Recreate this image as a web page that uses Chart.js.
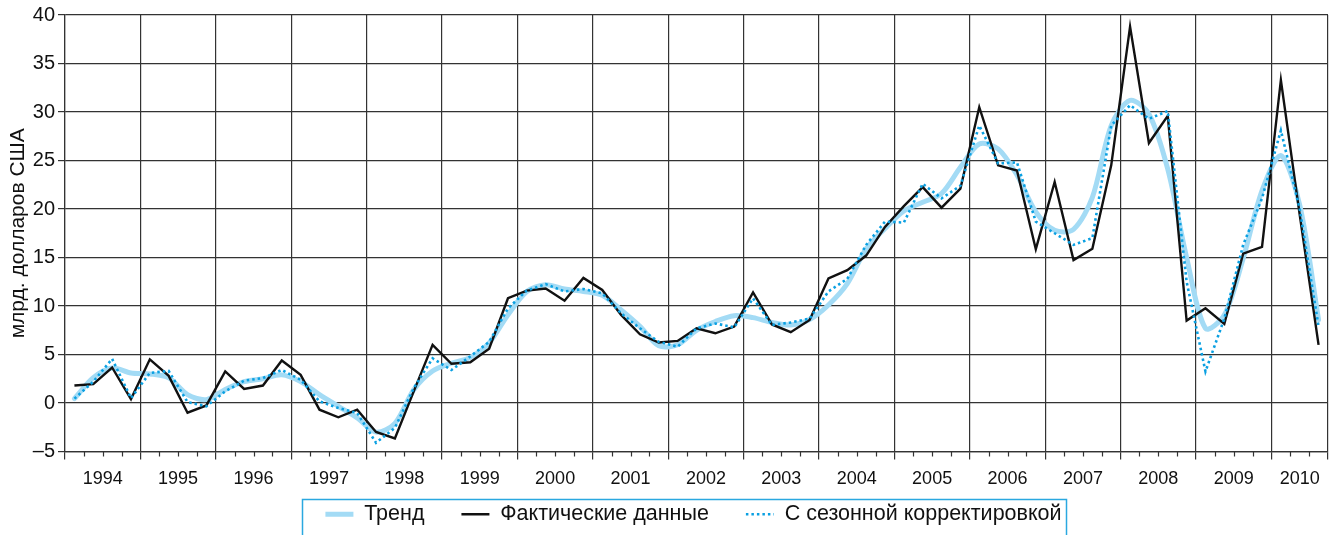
<!DOCTYPE html>
<html>
<head>
<meta charset="utf-8">
<script src="https://cdn.jsdelivr.net/npm/chart.js@4.4.1/dist/chart.umd.min.js"></script>
<style>
  html, body { margin:0; padding:0; background:#fff; }
  #wrap { width:1337px; height:535px; position:relative; }
</style>
</head>
<body>
<div id="wrap"><canvas id="chart"></canvas></div>
<script>
// quarterly data, 1994 Q1 .. 2010 Q3
var years = ['1994','1995','1996','1997','1998','1999','2000','2001','2002','2003','2004','2005','2006','2007','2008','2009','2010'];
var yTicks = [-5, 0, 5, 10, 15, 20, 25, 30, 35, 40];

var trend = [0.45, 2.6, 3.6, 3.1, 3.0, 2.6, 0.86, 0.35, 1.4, 2.2, 2.5,
  2.9, 2.2, 0.86, -0.34, -1.54, -3.0, -2.1, 1.37, 3.3, 4.1, 4.7, 6.2,
  9.1, 11.5, 12.2, 11.75, 11.5, 11.1, 9.6, 7.9, 5.9, 6.0, 7.5,
  8.4, 9.0, 8.8, 8.3, 8.05, 8.6, 10.1, 12.3, 15.9, 18.0, 19.8,
  20.7, 21.6, 24.3, 26.7, 26.2, 23.5, 19.7, 17.8, 17.9, 21.2,
  28.6, 31.2, 29.8, 24.1, 15.0, 7.7, 9.07, 14.9, 21.9, 25.5, 20.4, 8.6];

var actual = [1.8, 1.95, 3.66, 0.4, 4.5, 2.8, -1.0, -0.25, 3.25, 1.45, 1.8,
  4.38, 2.9, -0.69, -1.47, -0.69, -2.98, -3.66, 1.2, 6.0, 4.04, 4.2, 5.6,
  10.8, 11.58, 11.8, 10.55, 12.9, 11.65, 9.08, 7.09, 6.23, 6.4, 7.7,
  7.19, 7.88, 11.4, 8.1, 7.3, 8.56, 12.84, 13.7, 15.2, 18.15, 20.3,
  22.26, 20.14, 22.1, 30.5, 24.5, 23.97, 15.86, 22.78, 14.73, 15.9,
  24.5, 38.8, 26.8, 29.6, 8.5, 9.76, 8.15, 15.4, 16.1, 33.3, 19.4, 6.0];

var seasonal = [0.45, 2.2, 4.55, 0.5, 3.1, 3.3, 0.1, -0.34, 1.2, 2.3, 2.57,
  3.4, 2.4, 0.17, -0.51, -1.03, -4.1, -2.57, 1.54, 4.6, 3.4, 4.8, 6.3,
  9.76, 11.6, 12.26, 11.5, 11.75, 11.3, 9.25, 7.7, 6.3, 5.8, 7.7,
  8.2, 7.8, 10.8, 8.05, 8.3, 8.7, 11.5, 12.8, 16.3, 18.7, 18.6,
  22.6, 21.1, 22.4, 28.6, 24.7, 24.8, 18.7, 17.5, 16.3, 17.0,
  28.6, 30.7, 29.3, 30.1, 12.5, 3.25, 8.7, 16.3, 21.1, 28.1, 20.0, 7.9];

var FONT = "'Liberation Sans', Arial, sans-serif";
var GRID = '#333';
var nQ = actual.length;

// x axis: one unit per quarter, points sit in the middle of their quarter
function toPoints(arr){
  return arr.map(function(v, i){ return { x: i + 0.5, y: v }; });
}

// year edges get a grid line, year middles get the label
var yearEdges = [], yearLabels = {};
years.forEach(function(y, k){
  var s = k * 4, e = Math.min(s + 4, nQ);
  yearEdges.push(s);
  yearLabels[(s + e) / 2] = y;
});
yearEdges.push(nQ);
var xTicks = yearEdges.concat(Object.keys(yearLabels).map(Number)).sort(function(a,b){ return a-b; });

function isEdge(v){ return yearEdges.indexOf(v) >= 0; }

// short quarter ticks under the axis + frame round the legend
var extras = {
  id: 'extras',
  afterLayout: function(chart){
    var lg = chart.legend;
    lg.left += 26; lg.right += 26;
    // let the year labels run into the legend band (labels are clipped to the scale box)
    chart.scales.x.bottom = chart.height;
  },
  afterDraw: function(chart){
    var ctx = chart.ctx, xs = chart.scales.x, bottom = chart.chartArea.bottom;
    ctx.save();
    ctx.strokeStyle = GRID;
    ctx.lineWidth = 1.2;
    for (var q = 1; q < nQ; q++) {
      if (isEdge(q)) continue;
      var px = Math.round(xs.getPixelForValue(q)) + 0.5;
      ctx.beginPath();
      ctx.moveTo(px, bottom);
      ctx.lineTo(px, bottom + 5);
      ctx.stroke();
    }
    var lg = chart.legend, pad = lg.options.labels.padding;
    var start = (lg.left + pad + lg.right - lg.lineWidths[0]) / 2;
    var end = start + lg.lineWidths[0] - pad;
    ctx.strokeStyle = '#2aa8e0';
    ctx.lineWidth = 1.5;
    ctx.strokeRect(Math.round(start - 23) + 0.5, 499.5, Math.round(end - start + 28), 60);
    ctx.restore();
  }
};

new Chart(document.getElementById('chart').getContext('2d'), {
  type: 'line',
  data: {
    datasets: [
      { label: 'Тренд', data: toPoints(trend), borderColor: '#a3dbf5', borderWidth: 5,
        tension: 0.3, borderCapStyle: 'round', borderJoinStyle: 'round', order: 3 },
      { label: 'Фактические данные', data: toPoints(actual), borderColor: '#111', borderWidth: 2.4,
        tension: 0, order: 2 },
      { label: 'С сезонной корректировкой', data: toPoints(seasonal), borderColor: '#0aa0e2', borderWidth: 2.6,
        borderDash: [2.5, 3], tension: 0, order: 1 }
    ]
  },
  options: {
    responsive: true,
    maintainAspectRatio: false,
    animation: false,
    devicePixelRatio: 1,
    layout: { padding: { top: 15, right: 2, left: 0, bottom: 0 } },
    elements: { point: { radius: 0, hoverRadius: 0, pointStyle: 'line' } },
    plugins: {
      tooltip: { enabled: false },
      legend: {
        position: 'bottom',
        align: 'center',
        labels: {
          usePointStyle: true,
          pointStyleWidth: 28,
          padding: 37,
          color: '#111',
          font: { family: FONT, size: 21.5 },
          sort: function(a, b){ return a.datasetIndex - b.datasetIndex; },
          generateLabels: function(chart){
            var items = Chart.defaults.plugins.legend.labels.generateLabels(chart);
            items.forEach(function(it){
              var ds = chart.data.datasets[it.datasetIndex];
              it.pointStyle = 'line';
              it.lineWidth = ds.borderWidth;
              it.strokeStyle = ds.borderColor;
              it.lineDash = ds.borderDash || [];
            });
            return items;
          }
        }
      }
    },
    scales: {
      x: {
        type: 'linear',
        min: 0,
        max: nQ,
        afterBuildTicks: function(s){ s.ticks = xTicks.map(function(v){ return { value: v }; }); },
        afterFit: function(s){ s.height = 15; },
        grid: {
          color: function(c){ return c.tick && isEdge(c.tick.value) ? GRID : 'rgba(0,0,0,0)'; },
          tickColor: function(c){ return c.tick && isEdge(c.tick.value) ? GRID : 'rgba(0,0,0,0)'; },
          tickLength: 8,
          lineWidth: 1.2
        },
        border: { color: GRID, width: 1.2 },
        ticks: {
          autoSkip: false,
          maxRotation: 0,
          padding: 9,
          color: '#111',
          font: { family: FONT, size: 18 },
          callback: function(v){ return yearLabels[v] || ''; }
        }
      },
      y: {
        min: -5,
        max: 40,
        afterBuildTicks: function(s){ s.ticks = yTicks.map(function(v){ return { value: v }; }); },
        afterFit: function(s){ s.width = 65; },
        grid: { color: GRID, lineWidth: 1.2, tickLength: 7 },
        border: { color: GRID, width: 1.2 },
        ticks: {
          padding: 3,
          color: '#111',
          font: { family: FONT, size: 20 },
          callback: function(v){ return v < 0 ? '\u2013' + Math.abs(v) : v; }
        },
        title: {
          display: true,
          text: 'млрд. долларов США',
          color: '#111',
          font: { family: FONT, size: 21 },
          padding: { top: 6, bottom: 0 }
        }
      }
    }
  },
  plugins: [extras]
});
</script>
</body>
</html>
